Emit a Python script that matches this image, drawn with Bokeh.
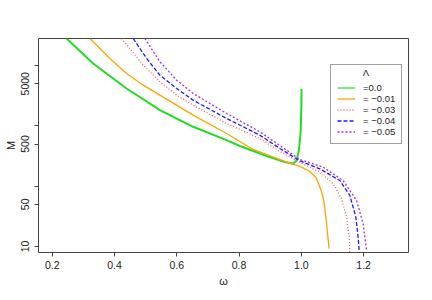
from bokeh.plotting import figure
from bokeh.models import Range1d, FixedTicker, Legend, LegendItem, Label
from bokeh.embed import file_html
from bokeh.resources import INLINE

# ---- data ----
w_l0 = [0.2462, 0.3316, 0.4388, 0.5458, 0.6526, 0.7599, 0.8026, 0.8934, 0.9470, 0.9737, 0.9846, 0.9920, 0.9968, 0.9984, 1.0000, 1.0006]
m_l0 = [28130, 10840, 4170, 1821, 966, 579, 464, 311, 252, 235, 267, 391, 693, 1016, 2178, 4120]

w_l1 = [0.3210, 0.3852, 0.4388, 0.4921, 0.5458, 0.6526, 0.7599, 0.8453, 0.8934, 0.9470, 1.0006, 1.027, 1.047, 1.059, 1.069, 1.075, 1.081, 1.085, 1.089]
m_l1 = [28130, 13120, 7400, 4730, 3230, 1504, 748, 406, 329, 257, 207, 175, 139, 99, 67.5, 44.9, 23.8, 14.7, 9.2]

w_l3 = [0.4228, 0.4921, 0.5458, 0.5994, 0.6526, 0.7599, 0.8668, 0.9310, 0.9984, 1.0594, 1.1021, 1.1291, 1.1451, 1.1535, 1.1557]
m_l3 = [28130, 10160, 5390, 3230, 2204, 1096, 618, 376, 243, 171, 110, 61.8, 30.6, 14.3, 8.0]

w_l4 = [0.4600, 0.5031, 0.5458, 0.5994, 0.6526, 0.7599, 0.8668, 0.9310, 0.9952, 1.0594, 1.1236, 1.1557, 1.1750, 1.1823, 1.1856]
m_l4 = [28130, 13120, 6930, 4170, 2668, 1327, 701, 422, 262, 194, 124, 70.2, 30.6, 14.3, 8.6]

w_l5 = [0.4976, 0.5458, 0.5994, 0.6526, 0.7599, 0.8668, 0.9310, 0.9952, 1.0700, 1.1342, 1.1772, 1.1984, 1.2093]
m_l5 = [28130, 11560, 5725, 3445, 1606, 798, 473, 277, 207, 124, 57.9, 23.8, 8.6]

legend_title = "\u039b"
legend_labels = ["=0.0", "= \u22120.01", "= \u22120.03", "= \u22120.04", "= \u22120.05"]
x_ticks = [0.2, 0.4, 0.6, 0.8, 1.0, 1.2]
x_tick_labels = ["0.2", "0.4", "0.6", "0.8", "1.0", "1.2"]
y_ticks = [10, 50, 100, 500, 1000, 5000, 10000]
y_tick_labels = ["10", "50", "", "500", "", "5000", ""]

FONT = "Liberation Sans"
AX = "#444444"
GREEN = "#22dd22"

p = figure(width=424, height=292, output_backend="svg", toolbar_location=None,
           y_axis_type="log",
           x_range=Range1d(0.156, 1.344), y_range=Range1d(7.95, 28100),
           min_border_left=38, min_border_right=16, min_border_top=38, min_border_bottom=40)
p.xgrid.visible = False
p.ygrid.visible = False
p.outline_line_color = AX
p.outline_line_width = 1
p.background_fill_color = "white"
p.border_fill_color = "white"

r0 = p.line(w_l0, m_l0, line_color=GREEN, line_width=2)
r1 = p.line(w_l1, m_l1, line_color="#ffa500", line_width=1.3)
r3 = p.line(w_l3, m_l3, line_color="#ff5a5a", line_width=1.3, line_dash="1 2")
r4 = p.line(w_l4, m_l4, line_color="#1a1aff", line_width=1.3, line_dash="4 2")
r5 = p.line(w_l5, m_l5, line_color="#a030f0", line_width=1.3, line_dash="2 2")
# thin legend key for the green curve (not drawn in the plot itself)
r0_key = p.line(w_l0, m_l0, line_color=GREEN, line_width=1.2, visible=False)

for ax in (p.xaxis[0], p.yaxis[0]):
    ax.axis_line_color = None
    ax.major_tick_line_color = AX
    ax.minor_tick_line_color = None
    ax.major_tick_out = 4
    ax.major_tick_in = 0
    ax.major_label_text_font = FONT
    ax.major_label_text_font_size = "10.5px"
    ax.major_label_text_color = "#222222"
    ax.axis_label_text_font = FONT
    ax.axis_label_text_font_size = "11px"
    ax.axis_label_text_font_style = "normal"
    ax.axis_label_text_color = "#222222"

p.xaxis[0].ticker = FixedTicker(ticks=x_ticks)
p.xaxis[0].major_label_overrides = {t: l for t, l in zip(x_ticks, x_tick_labels)}
p.xaxis[0].axis_label = "\u03c9"
p.xaxis[0].major_label_standoff = 4
p.xaxis[0].axis_label_standoff = 3

p.yaxis[0].ticker = FixedTicker(ticks=y_ticks)
p.yaxis[0].major_label_overrides = {t: l for t, l in zip(y_ticks, y_tick_labels)}
p.yaxis[0].major_label_orientation = "vertical"
p.yaxis[0].axis_label = "M"
p.yaxis[0].major_label_standoff = 5
p.yaxis[0].axis_label_standoff = 2

legend = Legend(items=[LegendItem(label=l, renderers=[r]) for l, r in
                       zip(legend_labels, [r0_key, r1, r3, r4, r5])],
                location=(292, 108), title="\u00a0",
                title_text_font_size="9.5px", title_standoff=0,
                label_text_font=FONT, label_text_font_size="9.5px",
                label_text_color="#222222",
                glyph_width=18, glyph_height=11, label_height=11, spacing=0,
                label_standoff=8, padding=6, margin=0,
                border_line_color=AX, border_line_width=1,
                background_fill_color="white", background_fill_alpha=0.0)
p.add_layout(legend, "center")

p.add_layout(Label(x=1.207, y=7690, text=legend_title, text_align="center", text_baseline="middle",
                   text_font=FONT, text_font_size="9.5px", text_color="#222222", level="overlay"))

open("out.html", "w").write(file_html(p, INLINE))
